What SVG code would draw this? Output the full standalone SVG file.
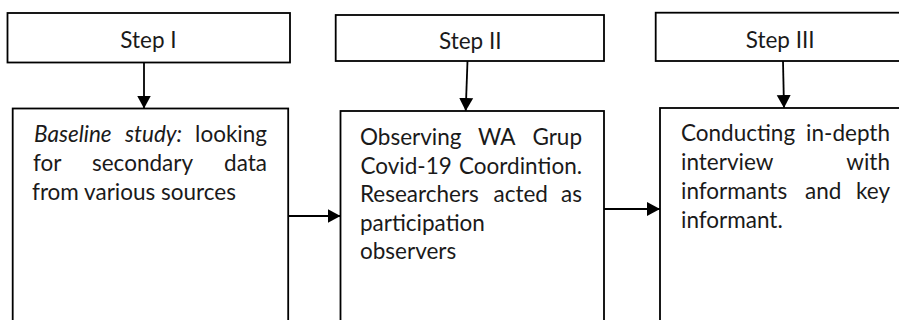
<svg xmlns="http://www.w3.org/2000/svg" width="899" height="320" viewBox="0 0 899 320">
<style>
.box{fill:#fff;stroke:#000;stroke-width:1.8}
.t{font-family:Lato,"Open Sans","Liberation Sans",sans-serif;font-size:22.5px;fill:#1a1a1a}
.c{text-anchor:middle}
.e{text-anchor:end}
.i{font-style:italic}
.con{stroke:#000;stroke-width:1.8;fill:none}
</style>
<defs>
<marker id="ah" markerUnits="userSpaceOnUse" markerWidth="15" markerHeight="15" refX="13" refY="7.5" orient="auto">
<path d="M0,0.5 L13,7.5 L0,14.5 Z" fill="#000"/>
</marker>
</defs>
<rect width="899" height="320" fill="#fff"/>
<g id="step1">
<rect class="box" x="7.5" y="13" width="282.5" height="49.5"/>
<text class="t c" x="148.5" y="47.7">Step I</text>
</g>
<g id="step2">
<rect class="box" x="335.7" y="15" width="268.3" height="46"/>
<text class="t c" x="470.3" y="49.3">Step II</text>
</g>
<g id="step3">
<rect class="box" x="655.7" y="12.7" width="260" height="48.3"/>
<text class="t c" x="780.2" y="48.3">Step III</text>
</g>
<g id="box1">
<rect class="box" x="12.7" y="108.5" width="275.5" height="230"/>
<text class="t i" x="34" y="141.5">Baseline</text>
<text class="t i" x="125" y="141.5">study:</text>
<text class="t e" x="267" y="141.5">looking</text>
<text class="t" x="33" y="171">for</text>
<text class="t" x="92" y="171">secondary</text>
<text class="t e" x="267" y="171">data</text>
<text class="t" x="32" y="200">from various sources</text>
</g>
<g id="box2">
<rect class="box" x="340.5" y="111" width="263.5" height="230"/>
<text class="t" x="360" y="145">Observing</text>
<text class="t" x="478" y="145">WA</text>
<text class="t e" x="582" y="145">Grup</text>
<text class="t" x="360.5" y="173.5">Covid-19</text>
<text class="t e" x="582" y="173.5">Coordintion.</text>
<text class="t" x="360" y="202">Researchers</text>
<text class="t" x="493.5" y="202">acted</text>
<text class="t e" x="582" y="202">as</text>
<text class="t" x="360" y="230.5">participation</text>
<text class="t" x="360" y="259">observers</text>
</g>
<g id="box3">
<rect class="box" x="660" y="108" width="260" height="230"/>
<text class="t" x="681" y="141">Conducting</text>
<text class="t e" x="890" y="141">in-depth</text>
<text class="t" x="681" y="170">interview</text>
<text class="t e" x="890" y="170">with</text>
<text class="t" x="681" y="199.3">informants</text>
<text class="t" x="805" y="199.3">and</text>
<text class="t e" x="890" y="199.3">key</text>
<text class="t" x="681" y="228.3">informant.</text>
</g>
<g id="connectors">
<line class="con" x1="144" y1="62.5" x2="144" y2="108.5" marker-end="url(#ah)"/>
<line class="con" x1="467.5" y1="61" x2="465.7" y2="111" marker-end="url(#ah)"/>
<line class="con" x1="783" y1="61" x2="784" y2="108" marker-end="url(#ah)"/>
<line class="con" x1="288" y1="216" x2="340.5" y2="216" marker-end="url(#ah)"/>
<line class="con" x1="604" y1="209" x2="660" y2="209" marker-end="url(#ah)"/>
</g>
</svg>
